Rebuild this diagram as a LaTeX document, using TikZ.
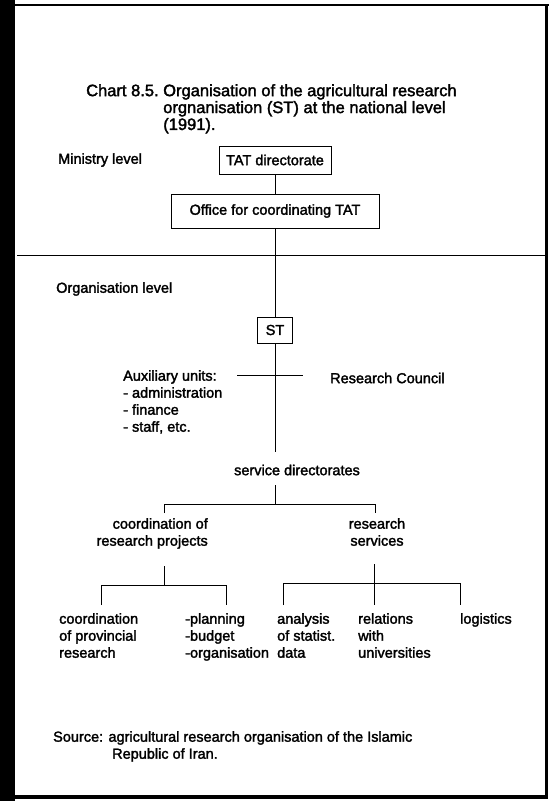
\documentclass[tikz,border=0pt]{standalone}
\usepackage{fontspec}
\setmainfont[FakeBold=2]{Liberation Sans}
\usepackage{tikz}
\usetikzlibrary{positioning}
\tikzset{main text/.style={font=\fontsize{14.5}{17}\selectfont, inner sep=0pt, align=left},
         unit box/.style={draw, line width=0.6pt, font=\fontsize{14.5}{17}\selectfont, inner sep=0pt}}

\begin{document}
\begin{tikzpicture}[x=1pt, y=-1pt]
            \useasboundingbox (0,0) rectangle (553,801);
            % scan frame
            \fill (0,0) rectangle (15,801);
            \draw[line width=2pt] (15,5) -- (549,5);
            \draw[line width=3pt] (546,5) -- (546,797);
            \draw[line width=4pt] (15,797) -- (548,797);

            \node[main text, font=\fontsize{16.5}{16.5}\selectfont, anchor=north west] (T) at (86,84)
              {Chart 8.5.\ \begin{tabular}[t]{@{}l@{}}Organisation of the agricultural research\\ orgnanisation (ST) at the national level\\ (1991).\end{tabular}};

            \node[main text, anchor=west] (M) at (58,160) {Ministry level};
            \node[unit box, minimum width=112, minimum height=28] (A) at (275,160) {TAT directorate};
            \node[unit box, minimum width=208, minimum height=34] (B) at (275,211) {Office for coordinating TAT};
            \coordinate (hl) at (17,255);
            \coordinate (hr) at (546,255);

            \node[main text, anchor=west] (O) at (56,289) {Organisation level};
            \node[unit box, minimum width=35, minimum height=26] (ST) at (275,330) {ST};
            \node[main text, anchor=north west] (X) at (123,370) {Auxiliary units:\\- administration\\- finance\\- staff, etc.};
            \node[main text, anchor=west] (R) at (330,378) {Research Council};
            \coordinate (cl) at (237,375);
            \coordinate (cr) at (303,375);
            \coordinate (t1) at (275,452);

            \node[main text] (S) at (297,470) {service directorates};
            \coordinate (t2) at (275,485);
            \coordinate (j1) at (275,504);
            \node[main text, align=right, anchor=north east] (C) at (208,518) {coordination of\\research projects};
            \node[main text, align=center, anchor=north] (D) at (377,518) {research\\services};

            \coordinate (c1) at (164,566);
            \coordinate (c2) at (164,585);
            \coordinate (d1) at (374,564);
            \coordinate (d2) at (374,583);

            \node[main text, anchor=north west] (E) at (59,613) {coordination\\of provincial\\research};
            \node[main text, anchor=north west] (F) at (185,613) {-planning\\-budget\\-organisation};
            \node[main text, anchor=north west] (G) at (277,613) {analysis\\of statist.\\data};
            \node[main text, anchor=north west] (H) at (358,613) {relations\\with\\universities};
            \node[main text, anchor=north west] (I) at (460,613) {logistics};

            \node[main text, anchor=north west] (Z) at (53,731) {Source: agricultural research organisation of the Islamic\\\hspace*{59pt}Republic of Iran.};

            \path[draw, line width=0.6pt]
            (A) edge (B)
            (B) edge (ST)
            (hl) edge (hr)
            (ST) edge (t1)
            (cl) edge (cr)
            (t2) edge (j1)
            (c1) edge (c2)
            (d1) edge (d2);

            \draw[line width=0.6pt] (164,513) -- (164,504) -- (375,504) -- (375,513);
            \draw[line width=0.6pt] (101,605) -- (101,585) -- (226,585) -- (226,605);
            \draw[line width=0.6pt] (283,605) -- (283,583) -- (460,583) -- (460,605);
            \draw[line width=0.6pt] (d2) -- (374,605);
        \end{tikzpicture}
\end{document}
